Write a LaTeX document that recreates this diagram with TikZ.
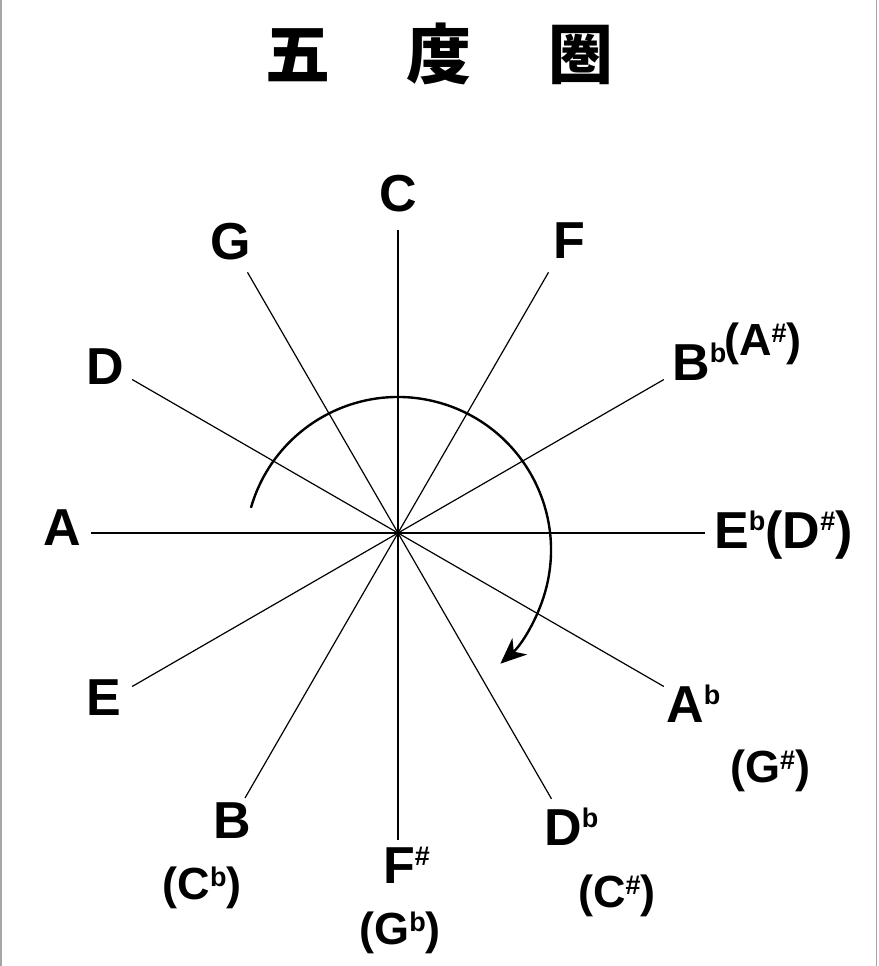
\documentclass[tikz,border=0pt]{standalone}
\usepackage{fontspec}
\setmainfont{Liberation Sans}
\newfontfamily\cjk{Noto Sans CJK JP}
\usetikzlibrary{arrows.meta}
\newcommand\spx[1]{\raisebox{\dimexpr0.716em-19.3pt\relax}{\fontsize{27}{27}\selectfont #1}}
\tikzset{
  lab/.style={inner sep=0pt, font=\fontsize{52}{52}\selectfont\bfseries},
  labs/.style={inner sep=0pt, font=\fontsize{45}{45}\selectfont\bfseries},
  spoke/.style={line width=1.2pt, black},
  turn/.style={line width=2.4pt, black, -{Stealth[length=26pt,width=22pt,inset=8pt]}},
  edge/.style={line width=1.6pt, black!35},
}
\begin{document}
\begin{tikzpicture}[x=1pt,y=-1pt]
\fill[white] (0,0) rectangle (878,966);
\useasboundingbox (0,0) rectangle (878,966);
\draw[edge] (1,0) -- (1,966);
\draw[edge] (876.5,0) -- (876.5,966);

% title
\node[inner sep=0pt, font=\cjk\bfseries\fontsize{65}{65}\selectfont] (title) at (439.5,54) {五\hspace{77pt}度\hspace{77pt}圏};

% centre
\coordinate (O) at (398,533);
\coordinate (arcc) at (398,550);

% spoke ends
\path (O) ++(90:303pt)  coordinate (eC);
\path (O) ++(60:301pt)  coordinate (eF);
\path (O) ++(30:307pt)  coordinate (eBb);
\path (O) ++(0:307pt)   coordinate (eEb);
\path (O) ++(-30:307pt) coordinate (eAb);
\path (O) ++(-60:307pt) coordinate (eDb);
\path (O) ++(-90:307pt) coordinate (eFs);
\path (O) ++(-120:306pt) coordinate (eB);
\path (O) ++(-150:307pt) coordinate (eE);
\path (O) ++(180:307pt) coordinate (eA);
\path (O) ++(150:307pt) coordinate (eD);
\path (O) ++(120:301pt) coordinate (eG);

\foreach \e in {eC,eF,eBb,eEb,eAb,eDb,eFs,eB,eE,eA,eD,eG}
  \draw[spoke] (O) -- (\e);

% labels
\node[lab, anchor=base] (nC) at (398,211) {C};
\node[lab, anchor=base] (nG) at (231,259) {G};
\node[lab, anchor=base] (nF) at (569,258) {F};
\node[lab, anchor=base] (nD) at (105,384) {D};
\node[lab, anchor=base] (nA) at (62,545) {A};
\node[lab, anchor=base] (nE) at (104,715) {E};
\node[lab, anchor=base] (nB) at (232,838) {B};
\node[labs, anchor=base] (nCb) at (202,899) {(C\spx{b})};
\node[lab, anchor=base west] (nFs) at (383,883) {F\spx{\#}};
\node[labs, anchor=base] (nGb) at (400,944) {(G\spx{b})};
\node[lab, anchor=base west] (nDb) at (544,845) {D\spx{b}};
\node[labs, anchor=base] (nCs) at (617,907) {(C\spx{\#})};
\node[lab, anchor=base west] (nAb) at (666,722) {A\spx{b}};
\node[labs, anchor=base] (nGs) at (770,782) {(G\spx{\#})};
\node[lab, anchor=base west] (nEb) at (714,548) {E\spx{b}(D\spx{\#})};
\node[lab, anchor=base west] (nBb) at (672,380) {B\spx{b}};
\node[labs, anchor=base west] (nAs) at (724,355) {(A\spx{\#})};

% rotation arrow
\draw[turn] (arcc) ++(164:153pt) arc[start angle=164, end angle=-48, radius=153pt];
\end{tikzpicture}
\end{document}
